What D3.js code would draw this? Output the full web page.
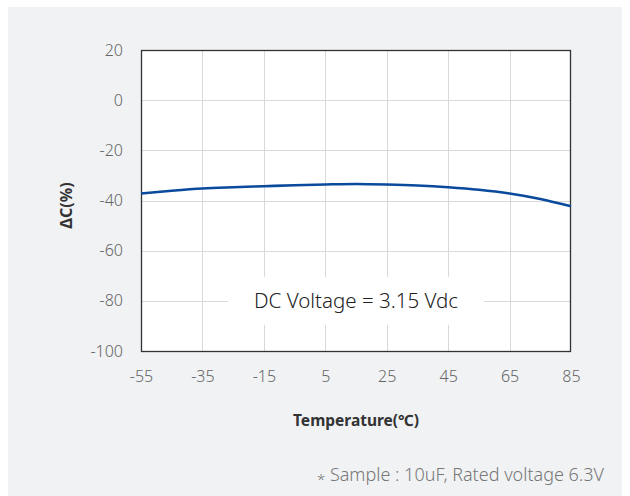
<!DOCTYPE html>
<html>
<head>
<meta charset="utf-8">
<script src="https://cdn.jsdelivr.net/npm/d3@7"></script>
<style>
  html, body { margin: 0; padding: 0; background: #ffffff; }
  svg { display: block; font-family: "Noto Sans", "Noto Sans CJK KR", sans-serif; }
</style>
</head>
<body>
<svg id="chart" width="630" height="496"></svg>
<script>
// Temperature characteristic of capacitance change
const temperatures = [-55, -45, -35, -25, -15, -5, 5, 15, 25, 35, 45, 55, 65, 75, 85];
const capChange    = [-37.2, -36.1, -35.2, -34.7, -34.3, -33.9, -33.6, -33.4, -33.6, -34.0, -34.7, -35.7, -37.2, -39.4, -42.3];
const xTicks = [-55, -35, -15, 5, 25, 45, 65, 85];
const yTicks = [20, 0, -20, -40, -60, -80, -100];
const annotation = "DC Voltage = 3.15 Vdc";
const xTitle = "Temperature(℃)";
const yTitle = "ΔC(%)";
const footMark = "*";
const footnote = " Sample : 10uF, Rated voltage 6.3V";

const svg = d3.select("#chart");

// panel background
svg.append("rect").attr("x", 8).attr("y", 7).attr("width", 614).attr("height", 489).attr("fill", "#f1f2f4");

const m = { left: 141, right: 571, top: 50, bottom: 351 };
const x = d3.scaleLinear().domain([-55, 85]).range([m.left, m.right]);
const y = d3.scaleLinear().domain([-100, 20]).range([m.bottom, m.top]);

svg.append("rect").attr("x", m.left).attr("y", m.top)
  .attr("width", m.right - m.left).attr("height", m.bottom - m.top).attr("fill", "#fff");

// grid
const grid = svg.append("g").attr("stroke", "#d9d9d9").attr("stroke-width", 1);
grid.selectAll(".gx").data(xTicks.slice(1, -1)).join("line")
  .attr("x1", d => Math.round(x(d)) + 0.5).attr("x2", d => Math.round(x(d)) + 0.5)
  .attr("y1", m.top).attr("y2", m.bottom);
grid.selectAll(".gy").data(yTicks.slice(1, -1)).join("line")
  .attr("y1", d => Math.round(y(d)) + 0.5).attr("y2", d => Math.round(y(d)) + 0.5)
  .attr("x1", m.left).attr("x2", m.right);

// annotation with white backdrop that breaks the gridlines
const annX = x(15), annY = y(-80);
svg.append("rect").attr("x", annX - 128).attr("y", annY - 24).attr("width", 256).attr("height", 48).attr("fill", "#fff");
svg.append("text").attr("x", annX).attr("y", annY).attr("dy", "0.35em")
  .attr("text-anchor", "middle").attr("font-size", 20.5).attr("font-weight", 300)
  .attr("fill", "#222").text(annotation);

// frame
svg.append("rect").attr("x", m.left + 0.5).attr("y", m.top + 0.5)
  .attr("width", m.right - m.left - 1).attr("height", m.bottom - m.top)
  .attr("fill", "none").attr("stroke", "#333").attr("stroke-width", 1.3);

// axes (plain hyphen for negatives)
const fmt = d => String(d);
const xAxis = svg.append("g").attr("transform", `translate(0,${m.bottom})`)
  .call(d3.axisBottom(x).tickValues(xTicks).tickFormat(fmt).tickSize(0).tickPadding(20));
const yAxis = svg.append("g").attr("transform", `translate(${m.left},0)`)
  .call(d3.axisLeft(y).tickValues(yTicks).tickFormat(fmt).tickSize(0).tickPadding(18));
[xAxis, yAxis].forEach(a => {
  a.select(".domain").remove();
  a.selectAll("text").attr("font-size", 16).attr("font-weight", 300).attr("fill", "#666")
    .attr("font-family", "\"Noto Sans\", sans-serif");
});

// curve
const line = d3.line().x((d, i) => x(temperatures[i])).y(d => y(d)).curve(d3.curveMonotoneX);
svg.append("path").datum(capChange).attr("d", line)
  .attr("fill", "none").attr("stroke", "#0a4a9c").attr("stroke-width", 2.6);

// titles
svg.append("text").attr("transform", `translate(66,${y(-40) + 5}) rotate(-90)`)
  .attr("text-anchor", "middle").attr("dy", "0.35em")
  .attr("font-size", 16).attr("font-weight", "bold").attr("fill", "#333").text(yTitle);
svg.append("text").attr("x", x(15)).attr("y", 421).attr("dy", "0.35em")
  .attr("text-anchor", "middle").attr("font-size", 15.5).attr("font-weight", "bold").attr("fill", "#333").text(xTitle);

// footnote: star mark sits lower, near mid x-height
const foot = svg.append("text").attr("x", 604).attr("y", 481)
  .attr("text-anchor", "end").attr("font-size", 18).attr("font-weight", 300).attr("fill", "#777");
foot.append("tspan").attr("dy", 4).attr("font-size", 15).text(footMark);
foot.append("tspan").attr("dy", -4).text(footnote);
</script>
</body>
</html>
